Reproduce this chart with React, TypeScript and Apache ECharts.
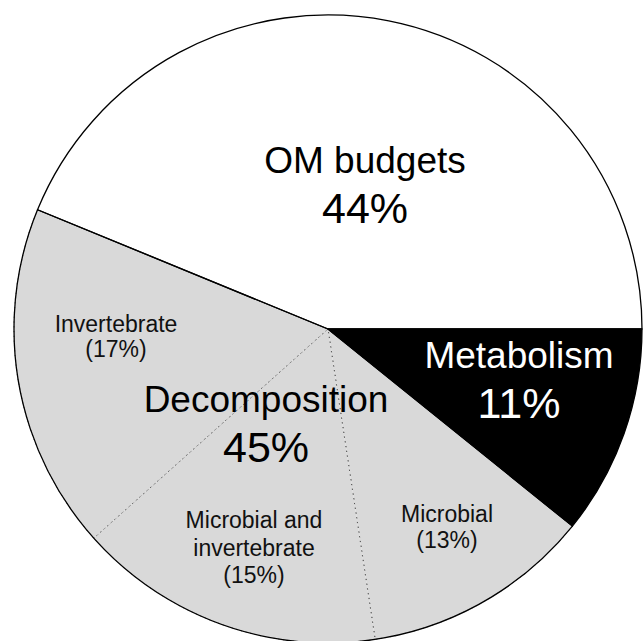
import React, { useEffect, useRef } from "react";
import * as echarts from "echarts";

// Main groups (share of the circle as drawn, clockwise from 3 o'clock)
const groupNames = ["Metabolism", "Decomposition", "OM budgets"];
const groupShares = [10.8, 45.4, 43.8];

// Sub-slices (Decomposition split into three parts)
const subNames = ["Metabolism", "Microbial", "Microbial and invertebrate", "Invertebrate", "OM budgets"];
const subShares = [10.8, 11.8, 15.8, 17.8, 43.8];

// Label texts as printed on the chart
const bigLabels = [
  ["OM budgets", "44%"],
  ["Metabolism", "11%"],
  ["Decomposition", "45%"],
];
const smallLabels = [
  ["Invertebrate", "(17%)"],
  ["Microbial", "(13%)"],
  ["Microbial and", "invertebrate", "(15%)"],
];

const FONT = "Liberation Sans, Arial, Helvetica, sans-serif";
const CX = 328;
const CY = 329;
const R = 314;

// layout (x centre, y of first line, line step, font sizes, colour)
const bigLayout = [
  { x: 365, y: 160, step: 48, color: "#000" },
  { x: 519, y: 355, step: 48, color: "#fff" },
  { x: 266, y: 399, step: 48, color: "#000" },
];
const smallLayout = [
  { x: 116, y: 324, step: 25 },
  { x: 447, y: 514, step: 26 },
  { x: 254, y: 520, step: 27.5 },
];

export default function App() {
  const ref = useRef<HTMLDivElement>(null);
  useEffect(() => {
    if (!ref.current) return;
    const chart = echarts.init(ref.current, null, { renderer: "svg" });

    const subColors = ["#000000", "#d9d9d9", "#d9d9d9", "#d9d9d9", "#ffffff"];
    const subData = subNames.map((n, i) => ({
      name: n,
      value: subShares[i],
      itemStyle: {
        color: subColors[i],
        borderColor: i >= 1 && i <= 3 ? "#555" : "transparent",
        borderWidth: i >= 1 && i <= 3 ? 1 : 0,
        borderType: [1.2, 3.6] as any,
      },
    }));
    const mainData = groupNames.map((n, i) => ({
      name: n,
      value: groupShares[i],
      itemStyle: { color: "rgba(0,0,0,0)", borderColor: "#000", borderWidth: 1.3 },
    }));

    const graphics: any[] = [];
    bigLabels.forEach((lines, k) => {
      const L = bigLayout[k];
      lines.forEach((t, j) => {
        graphics.push({
          type: "text",
          x: L.x,
          y: L.y + j * L.step,
          z: 100,
          style: {
            text: t,
            fill: L.color,
            font: `${j === 0 ? 37 : 43}px ${FONT}`,
            textAlign: "center",
            textVerticalAlign: "middle",
          },
        });
      });
    });
    smallLabels.forEach((lines, k) => {
      const L = smallLayout[k];
      lines.forEach((t, j) => {
        graphics.push({
          type: "text",
          x: L.x,
          y: L.y + j * L.step,
          z: 100,
          style: {
            text: t,
            fill: "#111",
            font: `23px ${FONT}`,
            textAlign: "center",
            textVerticalAlign: "middle",
          },
        });
      });
    });

    chart.setOption({
      animation: false,
      backgroundColor: "#fff",
      series: [
        {
          type: "pie",
          center: [CX, CY],
          radius: [0, R],
          startAngle: 0,
          clockwise: true,
          silent: true,
          z: 1,
          label: { show: false },
          labelLine: { show: false },
          emphasis: { disabled: true },
          data: subData,
        },
        {
          type: "pie",
          center: [CX, CY],
          radius: [0, R],
          startAngle: 0,
          clockwise: true,
          silent: true,
          z: 2,
          label: { show: false },
          labelLine: { show: false },
          emphasis: { disabled: true },
          data: mainData,
        },
      ],
      graphic: graphics,
    });
    return () => chart.dispose();
  }, []);
  return (
    <div
      ref={ref}
      style={{ position: "fixed", left: 0, top: 0, width: 644, height: 641 }}
    />
  );
}
